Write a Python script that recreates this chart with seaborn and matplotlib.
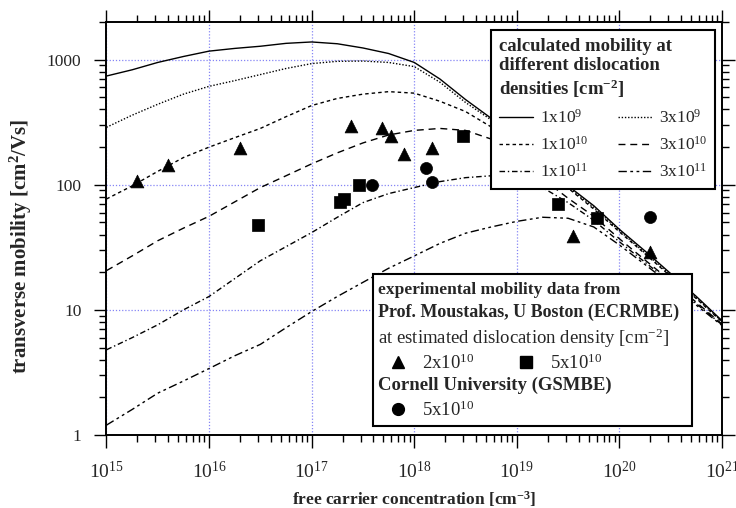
import matplotlib
matplotlib.use("Agg")
import pandas as pd
import matplotlib.pyplot as plt
import seaborn as sns
from matplotlib.lines import Line2D
from matplotlib.legend import Legend
from matplotlib.patches import Rectangle

# concentracion de portadores (cm^-3), cada cuarto de decada
n = [1e15, 1.78e15, 3.16e15, 5.62e15, 1e16, 1.78e16, 3.16e16, 5.62e16,
     1e17, 1.78e17, 3.16e17, 5.62e17, 1e18, 1.78e18, 3.16e18, 5.62e18,
     1e19, 1.78e19, 3.16e19, 5.62e19, 1e20, 1.78e20, 3.16e20, 5.62e20, 1e21]

# movilidad calculada (cm^2/Vs) para cada densidad de dislocaciones
mu_1e9 = [740, 830, 950, 1060, 1170, 1230, 1280, 1350, 1385, 1340, 1240, 1120, 950,
          700, 480, 340, 228, 150, 98, 68, 44, 29.5, 19.5, 12.8, 8.2]
mu_3e9 = [288, 360, 440, 530, 612, 680, 760, 850, 930, 970, 975, 950, 880,
          660, 455, 330, 222, 146, 96, 66, 43, 28.5, 19, 12.5, 8.1]
mu_1e10 = [77, 98, 128, 165, 200, 238, 282, 350, 430, 490, 530, 555, 540,
           465, 385, 290, 212, 142, 94, 64, 42, 28, 18.5, 12.3, 8.0]
mu_3e10 = [20.6, 27, 35.7, 45, 56, 73, 95, 118, 147, 180, 216, 250, 272,
           282, 272, 232, 172, 112, 78, 56, 37, 25, 17, 11.5, 7.7]
mu_1e11 = [4.8, 6.0, 7.6, 10.0, 12.8, 17.8, 24.7, 32, 41.5, 55, 72, 85, 95,
           106, 114, 118, 112, 95, 72, 52, 35, 24, 16.5, 11.2, 7.6]
mu_3e11 = [1.2, 1.6, 2.16, 2.7, 3.4, 4.3, 5.3, 7.2, 9.7, 12.8, 16.6, 21.5, 27,
           34, 41, 46, 51, 55, 54, 46, 33, 23, 16, 10.9, 7.5]

# datos experimentales
tri_n = [2e15, 4e15, 2e16, 2.4e17, 4.9e17, 6e17, 8e17, 1.5e18, 3.5e19, 2e20]
tri_mu = [107, 145, 195, 295, 283, 245, 175, 195, 39, 29]
sq_n = [3e16, 1.9e17, 2.05e17, 2.9e17, 3e18, 2.5e19, 6e19]
sq_mu = [48, 73, 77, 100, 245, 70, 54]
circ_n = [3.9e17, 1.3e18, 1.5e18, 2e20]
circ_mu = [100, 137, 105, 55]

curvas = {
    "1e9": mu_1e9, "3e9": mu_3e9, "1e10": mu_1e10,
    "3e10": mu_3e10, "1e11": mu_1e11, "3e11": mu_3e11,
}
estilos = {
    "1e9": "", "3e9": (1, 1.3), "1e10": (2.5, 2.2),
    "3e10": (5, 3.5), "1e11": (4, 2, 1, 2), "3e11": (6, 2.5, 2, 2.5, 2, 2.5),
}
etiquetas = {
    "1e9": r"1x10$^{9}$", "3e9": r"3x10$^{9}$", "1e10": r"1x10$^{10}$",
    "3e10": r"3x10$^{10}$", "1e11": r"1x10$^{11}$", "3e11": r"3x10$^{11}$",
}

df = pd.concat(
    [pd.DataFrame({"n": n, "mu": mu, "densidad": k}) for k, mu in curvas.items()],
    ignore_index=True,
)

sns.set_style("ticks")
plt.rcParams["font.family"] = ["Liberation Serif", "DejaVu Serif"]
plt.rcParams["mathtext.fontset"] = "custom"
plt.rcParams["mathtext.rm"] = "Liberation Serif"
plt.rcParams["mathtext.it"] = "Liberation Serif:italic"
plt.rcParams["mathtext.bf"] = "Liberation Serif:bold"

fig = plt.figure(figsize=(7.36, 5.08), dpi=100)
ax = fig.add_axes([0.1447, 0.1437, 0.8363, 0.813])

sns.lineplot(data=df, x="n", y="mu", style="densidad", dashes=estilos,
             color="black", linewidth=1.0, legend=False, ax=ax, zorder=3)
sns.scatterplot(x=tri_n, y=tri_mu, marker="^", s=85, color="black",
                edgecolor="black", linewidth=0.5, ax=ax, zorder=4)
sns.scatterplot(x=sq_n, y=sq_mu, marker="s", s=70, color="black",
                edgecolor="black", linewidth=0.5, ax=ax, zorder=4)
sns.scatterplot(x=circ_n, y=circ_mu, marker="o", s=75, color="black",
                edgecolor="black", linewidth=0.5, ax=ax, zorder=4)

ax.set_xscale("log")
ax.set_yscale("log")
ax.set_xlim(1e15, 1e21)
ax.set_ylim(1, 2000)
ax.set_yticks([1, 10, 100, 1000], labels=["1", "10", "100", "1000"])

ax.tick_params(which="both", direction="out", top=True, right=True,
               width=1.0, color="black")
ax.tick_params(which="major", length=9)
ax.tick_params(which="minor", length=5)
ax.tick_params(axis="x", which="major", labelsize=14, pad=10)
ax.tick_params(axis="y", which="major", labelsize=12.5, pad=9)
for sp in ax.spines.values():
    sp.set_linewidth(1.4)
    sp.set_color("black")

ax.grid(True, which="major", color="#8585f5", linestyle=(0, (1, 1.5)), linewidth=0.9)
ax.set_axisbelow(True)

ax.set_xlabel(r"free carrier concentration [cm$^{\mathbf{-3}}$]",
              fontsize=12.5, fontweight="bold", labelpad=5)
ax.set_ylabel(r"transverse mobility [cm$^{\mathbf{2}}$/Vs]",
              fontsize=15, fontweight="bold")
ax.yaxis.set_label_coords(-0.118, 0.458)

# leyenda de curvas calculadas
orden = ["1e9", "1e10", "1e11", "3e9", "3e10", "3e11"]
manijas = [
    Line2D([], [], color="black", lw=1.0,
           ls="-" if estilos[k] == "" else (0, estilos[k]))
    for k in orden
]
leg1 = Legend(
    ax, manijas, [etiquetas[k] for k in orden], ncol=2,
    loc="upper left", bbox_to_anchor=(0.625, 0.981),
    title="calculated mobility at\ndifferent dislocation\ndensities [cm$^{\\mathbf{-2}}$]",
    title_fontproperties={"weight": "bold", "size": 13.5}, alignment="left",
    fontsize=12.5, frameon=True, fancybox=False, edgecolor="black", framealpha=1,
    borderpad=0.45, handlelength=1.95, handletextpad=0.4, columnspacing=1.7,
    labelspacing=0.52, borderaxespad=0,
)
leg1.get_frame().set_linewidth(1.5)
leg1.set_zorder(6)
ax.add_artist(leg1)

# recuadro de datos experimentales
ax.add_patch(Rectangle((0.433, 0.022), 0.518, 0.368, transform=ax.transAxes,
                       facecolor="white", edgecolor="black", lw=1.5, zorder=5))
lineas = [
    (0.351, "experimental mobility data from", "bold", 12.5),
    (0.298, "Prof. Moustakas, U Boston (ECRMBE)", "bold", 13),
    (0.235, "at estimated dislocation density [cm$^{-2}$]", "normal", 13.5),
    (0.121, "Cornell University (GSMBE)", "bold", 13.5),
]
for yy, txt, peso, tam in lineas:
    ax.text(0.441, yy, txt, transform=ax.transAxes, fontsize=tam,
            fontweight=peso, va="center", zorder=7)

for marca, etiq, xx, yy in [("^", r"2x10$^{10}$", 0.458, 0.174),
                            ("s", r"5x10$^{10}$", 0.666, 0.174),
                            ("o", r"5x10$^{10}$", 0.458, 0.0605)]:
    lg = Legend(ax, [Line2D([], [], marker=marca, ls="none", color="black", markersize=8.5)],
                [etiq], loc="center left", bbox_to_anchor=(xx, yy), frameon=False,
                borderpad=0, borderaxespad=0, handlelength=1.0, handletextpad=0.78,
                fontsize=13.5)
    lg.set_zorder(7)
    ax.add_artist(lg)

fig.savefig("out.png", dpi=100)
